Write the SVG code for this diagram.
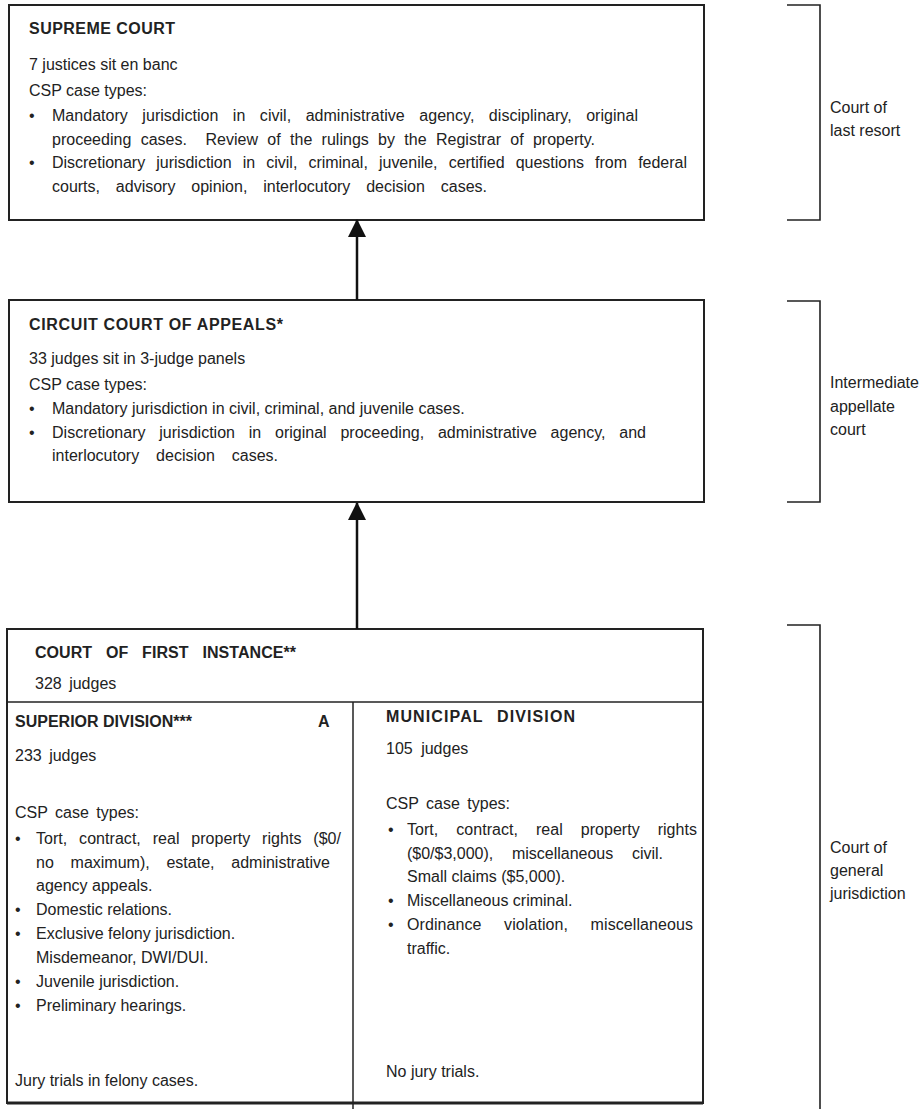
<svg xmlns="http://www.w3.org/2000/svg" width="921" height="1109" viewBox="0 0 921 1109">
<style>
.t{font-family:"Liberation Sans",Arial,sans-serif;font-size:16px;fill:#222}
.b{font-weight:bold}
.box{fill:none;stroke:#222;stroke-width:2}
.thin{fill:none;stroke:#222;stroke-width:1.5}
.br{fill:none;stroke:#222;stroke-width:1.6}
.conn line{stroke:#111;stroke-width:2.5;marker-end:url(#ah)}
</style>
<defs>
<marker id="ah" markerUnits="userSpaceOnUse" markerWidth="18" markerHeight="18" viewBox="0 0 18 18" refX="17" refY="9" orient="auto">
<path d="M0,0 L18,9 L0,18 z" fill="#111"/>
</marker>
</defs>
<rect x="0" y="0" width="921" height="1109" fill="#fff"/>

<g id="supreme-court">
<rect class="box" x="9" y="5" width="695" height="215"/>
<text class="t b" x="29" y="34" textLength="146" lengthAdjust="spacing">SUPREME COURT</text>
<text class="t" x="29" y="70">7 justices sit en banc</text>
<text class="t" x="29" y="96">CSP case types:</text>
<text class="t" x="29" y="121">•</text>
<text class="t" x="52" y="121" word-spacing="10" textLength="586" lengthAdjust="spacing">Mandatory jurisdiction in civil, administrative agency, disciplinary, original</text>
<text class="t" x="52" y="145" word-spacing="4.8" textLength="543" lengthAdjust="spacing" xml:space="preserve">proceeding cases.  Review of the rulings by the Registrar of property.</text>
<text class="t" x="29" y="168">•</text>
<text class="t" x="52" y="168" word-spacing="6.7" textLength="635" lengthAdjust="spacing">Discretionary jurisdiction in civil, criminal, juvenile, certified questions from federal</text>
<text class="t" x="52" y="192" word-spacing="11.4" textLength="435" lengthAdjust="spacing">courts, advisory opinion, interlocutory decision cases.</text>
</g>

<g id="circuit-court-of-appeals">
<rect class="box" x="9" y="300" width="695" height="202"/>
<text class="t b" x="29" y="330" textLength="254" lengthAdjust="spacing">CIRCUIT COURT OF APPEALS*</text>
<text class="t" x="29" y="364">33 judges sit in 3-judge panels</text>
<text class="t" x="29" y="390">CSP case types:</text>
<text class="t" x="29" y="414">•</text>
<text class="t" x="52" y="414">Mandatory jurisdiction in civil, criminal, and juvenile cases.</text>
<text class="t" x="29" y="438">•</text>
<text class="t" x="52" y="438" word-spacing="9.3" textLength="594" lengthAdjust="spacing">Discretionary jurisdiction in original proceeding, administrative agency, and</text>
<text class="t" x="52" y="461" word-spacing="12.5" textLength="226" lengthAdjust="spacing">interlocutory decision cases.</text>
</g>

<g id="court-of-first-instance">
<rect class="box" x="7" y="629" width="696" height="474"/>
<line x1="7" y1="1103" x2="703" y2="1103" stroke="#222" stroke-width="3"/>
<line class="thin" x1="7" y1="702" x2="703" y2="702"/>
<text class="t b" x="35" y="658" word-spacing="9.3" textLength="261" lengthAdjust="spacing">COURT OF FIRST INSTANCE**</text>
<text class="t" x="35" y="689" word-spacing="3">328 judges</text>
</g>

<g id="superior-division">
<line class="thin" x1="353" y1="702" x2="353" y2="1109"/>
<text class="t b" x="15" y="727">SUPERIOR DIVISION***</text>
<text class="t b" x="318" y="727">A</text>
<text class="t" x="15" y="761" word-spacing="3">233 judges</text>
<text class="t" x="15" y="818" word-spacing="3">CSP case types:</text>
<text class="t" x="15" y="844">•</text>
<text class="t" x="36" y="844" word-spacing="7.3" textLength="305" lengthAdjust="spacing">Tort, contract, real property rights ($0/</text>
<text class="t" x="36" y="868" word-spacing="12.3" textLength="294" lengthAdjust="spacing">no maximum), estate, administrative</text>
<text class="t" x="36" y="891">agency appeals.</text>
<text class="t" x="15" y="915">•</text>
<text class="t" x="36" y="915">Domestic relations.</text>
<text class="t" x="15" y="939">•</text>
<text class="t" x="36" y="939">Exclusive felony jurisdiction.</text>
<text class="t" x="36" y="963">Misdemeanor, DWI/DUI.</text>
<text class="t" x="15" y="987">•</text>
<text class="t" x="36" y="987">Juvenile jurisdiction.</text>
<text class="t" x="15" y="1011">•</text>
<text class="t" x="36" y="1011">Preliminary hearings.</text>
<text class="t" x="15" y="1086">Jury trials in felony cases.</text>
</g>

<g id="municipal-division">
<text class="t b" x="386" y="722" word-spacing="8" textLength="189" lengthAdjust="spacing">MUNICIPAL DIVISION</text>
<text class="t" x="386" y="754" word-spacing="4">105 judges</text>
<text class="t" x="386" y="809" word-spacing="3">CSP case types:</text>
<text class="t" x="388" y="835">•</text>
<text class="t" x="407" y="835" word-spacing="13.4" textLength="290" lengthAdjust="spacing">Tort, contract, real property rights</text>
<text class="t" x="407" y="859" word-spacing="14.2" textLength="256" lengthAdjust="spacing">($0/$3,000), miscellaneous civil.</text>
<text class="t" x="407" y="882">Small claims ($5,000).</text>
<text class="t" x="388" y="906">•</text>
<text class="t" x="407" y="906">Miscellaneous criminal.</text>
<text class="t" x="388" y="930">•</text>
<text class="t" x="407" y="930" word-spacing="18" textLength="286" lengthAdjust="spacing">Ordinance violation, miscellaneous</text>
<text class="t" x="407" y="954">traffic.</text>
<text class="t" x="386" y="1077">No jury trials.</text>
</g>

<g id="level-last-resort">
<path class="br" d="M787,5 H820 V220 H787"/>
<text class="t" x="830" y="113">Court of</text>
<text class="t" x="830" y="136">last resort</text>
</g>
<g id="level-intermediate">
<path class="br" d="M787,301 H820 V502 H787"/>
<text class="t" x="830" y="388">Intermediate</text>
<text class="t" x="830" y="412">appellate</text>
<text class="t" x="830" y="435">court</text>
</g>
<g id="level-general">
<path class="br" d="M787,625 H820 V1109"/>
<text class="t" x="830" y="853">Court of</text>
<text class="t" x="830" y="876">general</text>
<text class="t" x="830" y="899">jurisdiction</text>
</g>

<g id="connectors" class="conn">
<line x1="357" y1="300" x2="357" y2="220"/>
<line x1="357" y1="629" x2="357" y2="503"/>
</g>
</svg>
